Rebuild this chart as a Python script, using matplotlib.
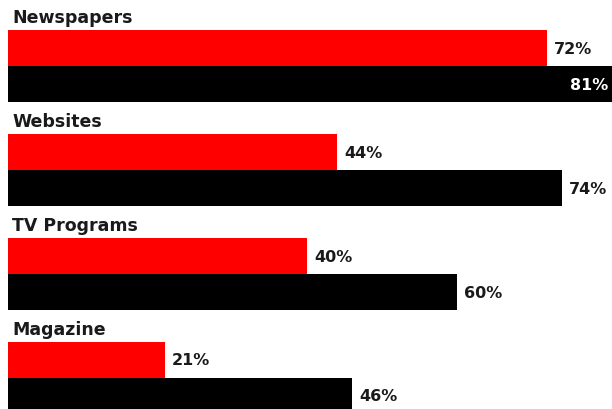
import matplotlib
matplotlib.use("Agg")
import matplotlib.pyplot as plt

# datos
categorias = ["Newspapers", "Websites", "TV Programs", "Magazine"]
valores_rojo = [72, 44, 40, 21]
valores_negro = [81, 74, 60, 46]

ROJO = "#ff0000"
NEGRO = "#000000"
TEXTO = "#1a1a1a"

fig = plt.figure(figsize=(6.12, 4.10), dpi=100)
ax = fig.add_axes([0, 0, 1, 1])

# escala: 1 unidad vertical = separación entre grupos
alto = 36 / 104
pos = list(range(len(categorias)))
pos_rojo = [p for p in pos]
pos_negro = [p + alto for p in pos]

ax.barh(pos_rojo, valores_rojo, height=alto, color=ROJO, left=0)
ax.barh(pos_negro, valores_negro, height=alto, color=NEGRO, left=0)

x_max = (612 - 8) / 7.48
ax.set_xlim(-8 / 7.48, x_max)
ax.set_ylim((410 - 49) / 104, -49 / 104)
ax.axis("off")

# etiquetas de categoría
for p, cat in zip(pos, categorias):
    ax.annotate(cat, xy=(0, p - 31 / 104), xytext=(3, 0), textcoords="offset points",
                ha="left", va="center", fontsize=12.5, fontweight="bold", color=TEXTO)

# etiquetas de valores
for yr, v in zip(pos_rojo, valores_rojo):
    ax.annotate(f"{v}%", xy=(v, yr), xytext=(5, 0), textcoords="offset points",
                ha="left", va="center", fontsize=11.5, fontweight="bold", color=TEXTO)
for yn, v in zip(pos_negro, valores_negro):
    if v + 6 > x_max:
        # no cabe fuera de la barra: va dentro, en blanco
        ax.annotate(f"{v}%", xy=(x_max, yn), xytext=(-3, 0), textcoords="offset points",
                    ha="right", va="center", fontsize=11.5, fontweight="bold", color="white")
    else:
        ax.annotate(f"{v}%", xy=(v, yn), xytext=(5, 0), textcoords="offset points",
                    ha="left", va="center", fontsize=11.5, fontweight="bold", color=TEXTO)

fig.savefig("out.png", dpi=100)
